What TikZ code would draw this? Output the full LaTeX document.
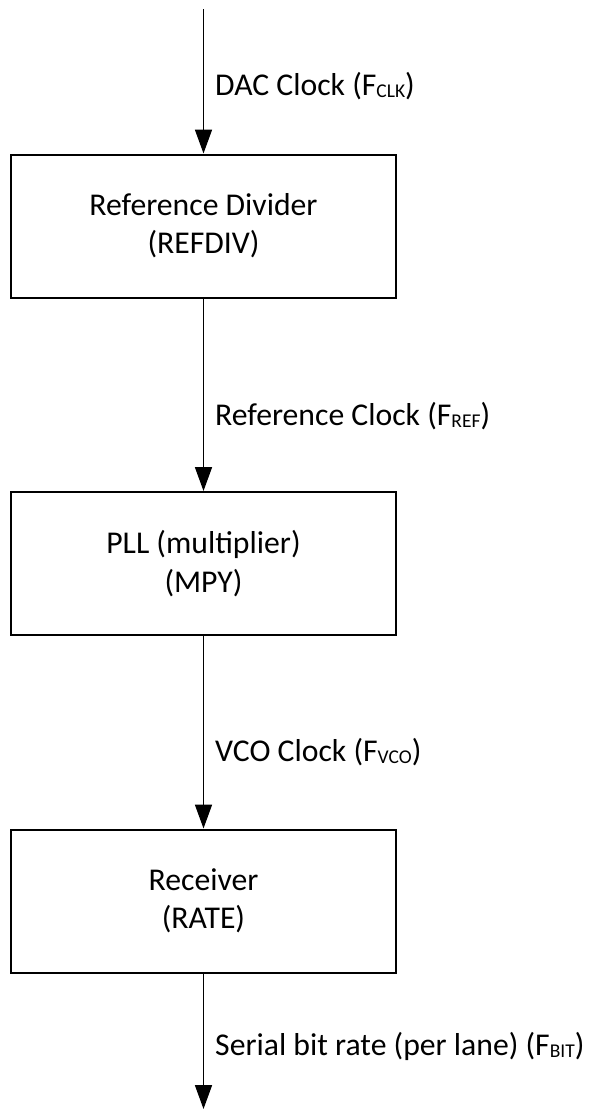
\documentclass[tikz,border=0pt]{standalone}
\usepackage{fontspec}
\setmainfont{Carlito}
\usetikzlibrary{arrows.meta,positioning}
\newcommand{\FreqSub}[1]{\raisebox{-2pt}{\fontsize{19.5}{19.5}\selectfont #1}}

\begin{document}
\begin{tikzpicture}[x=1pt,y=1pt,
  blk/.style={draw, line width=2pt, minimum width=385pt, minimum height=143pt,
    align=center, font=\fontsize{31.7}{38.3}\selectfont},
  sig/.style={line width=1.8pt, -{Triangle[length=24pt,width=17pt]}},
  siglbl/.style={anchor=base west, inner sep=0pt, font=\fontsize{31.7}{38}\selectfont}]

% ---------------- parameters ----------------
\pgfmathsetmacro{\ChainX}{203.5}   % x of the signal chain
\pgfmathsetmacro{\LblX}{215}       % left edge of the signal labels
\pgfmathsetmacro{\BlkGap}{192.5}   % gap between two blocks

\useasboundingbox (0,0) rectangle (589,-1109);

% ---------------- blocks ----------------
\node[blk] (refdiv) at (\ChainX,-226) {Reference Divider\\(REFDIV)};
\node[blk, below=\BlkGap pt of refdiv] (pll) {PLL (multiplier)\\(MPY)};
\node[blk, below=\BlkGap pt of pll] (rcv) {Receiver\\(RATE)};

% chain ends
\coordinate (clkin) at (\ChainX,-9);
\coordinate (bitout) at (\ChainX,-1109);

% ---------------- signals ----------------
\draw[sig] (clkin) -- (refdiv);
\draw[sig] (refdiv) -- (pll);
\draw[sig] (pll) -- (rcv);
\draw[sig] (rcv) -- (bitout);

\node[siglbl] (fclk) at (\LblX,-95.7) {DAC Clock (F\FreqSub{CLK})};
\node[siglbl] (fref) at (\LblX,-425) {Reference Clock (F\FreqSub{REF})};
\node[siglbl] (fvco) at (\LblX,-761.7) {VCO Clock (F\FreqSub{VCO})};
\node[siglbl] (fbit) at (\LblX,-1055) {Serial bit rate (per lane) (F\FreqSub{BIT})};

\end{tikzpicture}
\end{document}
